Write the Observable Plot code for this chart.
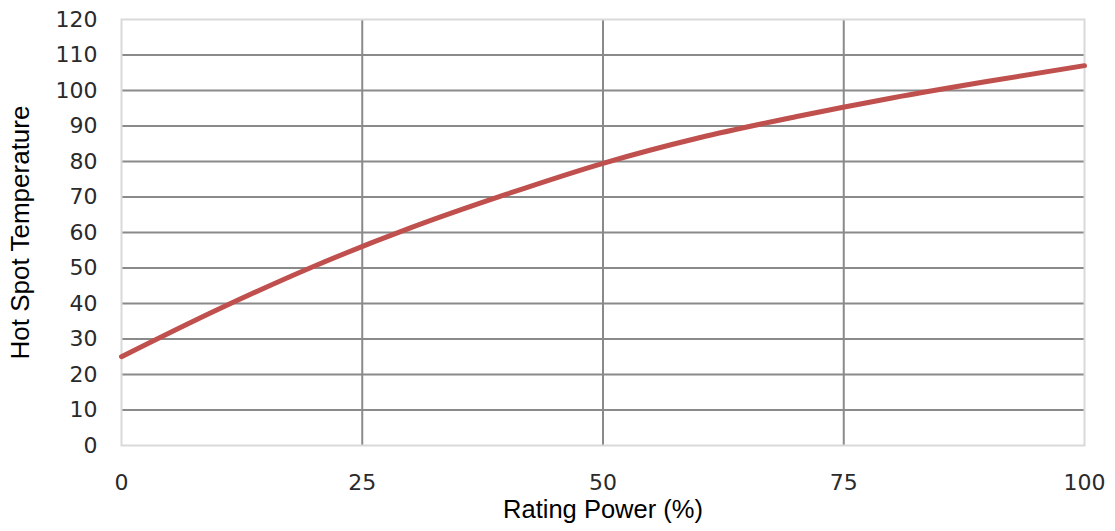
<!DOCTYPE html>
<html>
<head>
<meta charset="utf-8">
<script src="https://cdn.jsdelivr.net/npm/d3@7"></script>
<script src="https://cdn.jsdelivr.net/npm/@observablehq/plot@0.6"></script>
<style>
  html, body { margin: 0; padding: 0; background: #fff; }
  #chart svg { display: block; }
</style>
</head>
<body>
<div id="chart"></div>
<script>
const ratingPower = [0, 10, 20, 30, 40, 50, 60, 70, 80, 90, 100];
const hotSpotTemp = [25, 38.3, 50.5, 61.3, 70.8, 79.5, 86.7, 92.6, 97.9, 102.6, 107];
const xTicks = [0, 25, 50, 75, 100];
const yTicks = [0, 10, 20, 30, 40, 50, 60, 70, 80, 90, 100, 110, 120];
const yGrid = yTicks.filter(v => v > 0 && v < 120);
const xGrid = xTicks.filter(v => v > 0 && v < 100);

const data = ratingPower.map((p, i) => ({p, t: hotSpotTemp[i]}));

const chart = Plot.plot({
  width: 1115,
  height: 531,
  marginLeft: 121,
  marginRight: 31,
  marginTop: 19,
  marginBottom: 86,
  style: {fontFamily: "'DejaVu Sans', Verdana, sans-serif", fontSize: "22px", color: "#2a2a2a", background: "#fff"},
  x: {domain: [0, 100], ticks: xTicks, label: null},
  y: {domain: [0, 120], ticks: yTicks, label: null},
  marks: [
    Plot.ruleY(yGrid, {stroke: "#8a8a8a", strokeWidth: 2}),
    Plot.ruleX(xGrid, {stroke: "#8a8a8a", strokeWidth: 2}),
    Plot.frame({stroke: "#d9d9d9", strokeWidth: 2}),
    Plot.axisY({ticks: yTicks, tickSize: 0, tickPadding: 24, fill: "#2a2a2a", label: null, fontSize: 22}),
    Plot.axisX({ticks: xTicks, tickSize: 0, tickPadding: 29, fill: "#2a2a2a", label: null, fontSize: 22}),
    Plot.lineY(data, {x: "p", y: "t", stroke: "#c0504d", strokeWidth: 5, curve: "monotone-x"}),
    Plot.text(["Rating Power (%)"], {frameAnchor: "bottom", dy: 72, fontFamily: "Liberation Sans, Arial, sans-serif", fontSize: 25.5, fill: "#000"}),
    Plot.text(["Hot Spot Temperature"], {frameAnchor: "left", textAnchor: "middle", dx: -101, rotate: -90, fontFamily: "Liberation Sans, Arial, sans-serif", fontSize: 26, fill: "#000"})
  ]
});
document.getElementById("chart").appendChild(chart);
</script>
</body>
</html>
